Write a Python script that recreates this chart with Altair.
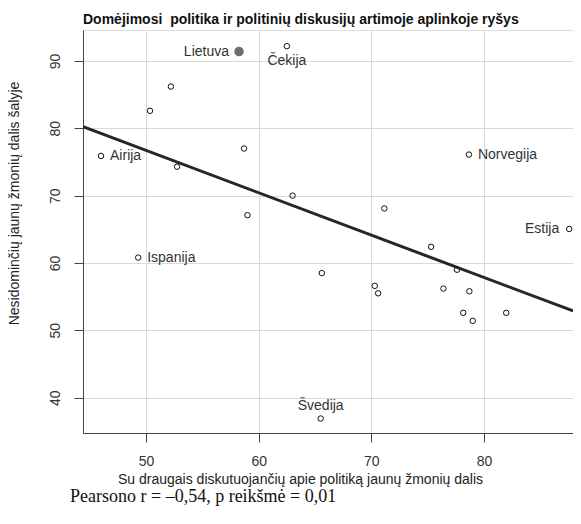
import altair as alt
import pandas as pd

# Data
countries = ["Lietuva", "Čekija", "", "", "Airija", "", "", "", "", "Ispanija",
             "", "Norvegija", "Estija", "", "", "", "", "", "", "", "", "", "", "Švedija"]
x_vals = [58.25, 62.5, 52.2, 50.35, 46.0, 52.75, 58.7, 59.0, 63.0, 49.3,
          71.15, 78.66, 87.56, 75.3, 77.6, 65.6, 70.3, 70.6, 76.4, 78.7, 78.15, 79.0, 81.97, 65.5]
y_vals = [91.4, 92.2, 86.2, 82.6, 75.9, 74.3, 77.0, 67.1, 70.0, 60.8,
          68.1, 76.1, 65.05, 62.4, 59.0, 58.5, 56.6, 55.5, 56.2, 55.8, 52.6, 51.4, 52.6, 36.9]
label_pos = ["left", "below", "", "", "right", "", "", "", "", "right",
             "", "right", "left", "", "", "", "", "", "", "", "", "", "", "above"]

x_ticks = [50, 60, 70, 80]
y_ticks = [40, 50, 60, 70, 80, 90]
x_domain = [44.4, 87.9]
y_domain = [34.75, 94.6]

title_text = "Domėjimosi\u00a0 politika ir politinių diskusijų artimoje aplinkoje ryšys"
x_title = "Su draugais diskutuojančių apie politiką jaunų žmonių dalis"
y_title = "Nesidominčių jaunų žmonių dalis šalyje"
footnote = "Pearsono r = –0,54, p reikšmė = 0,01"

df = pd.DataFrame({"country": countries, "x": x_vals, "y": y_vals, "pos": label_pos})
df["highlight"] = df["country"] == "Lietuva"

SANS = "Liberation Sans"

xscale = alt.Scale(domain=x_domain, nice=False, zero=False)
yscale = alt.Scale(domain=y_domain, nice=False, zero=False)

xaxis = alt.Axis(values=x_ticks, title=x_title, grid=True, gridColor="#d9d9d9",
                 gridWidth=1, domainColor="#444", tickColor="#444", tickSize=9,
                 labelFont=SANS, labelFontSize=14, labelColor="#333", labelPadding=12,
                 titleFont=SANS, titleFontSize=14, titleFontWeight="normal",
                 titleColor="#222", titleAlign="center", titleBaseline="middle",
                 titleX=217, titleY=46)
yaxis = alt.Axis(values=y_ticks, title=y_title, grid=True, gridColor="#d9d9d9",
                 gridWidth=1, domainColor="#444", tickColor="#444", tickSize=9,
                 labelFont=SANS, labelFontSize=14, labelColor="#333", labelAngle=-90,
                 labelAlign="center", labelBaseline="bottom", labelPadding=12,
                 titleFont=SANS, titleFontSize=14, titleFontWeight="normal",
                 titleColor="#222", titleAngle=-90, titleAlign="center",
                 titleBaseline="middle", titleX=-69, titleY=173)

base = alt.Chart(df)

grid_layer = base.mark_point(opacity=0).encode(
    x=alt.X("x:Q", scale=xscale, axis=xaxis),
    y=alt.Y("y:Q", scale=yscale, axis=yaxis),
)

reg = base.transform_regression("x", "y", extent=x_domain).mark_line(
    color="#262626", strokeWidth=3, clip=True
).encode(x=alt.X("x:Q", scale=xscale), y=alt.Y("y:Q", scale=yscale))

pts = base.transform_filter("!datum.highlight").mark_point(
    shape="circle", size=30, filled=False, color="#111", strokeWidth=1, opacity=1
).encode(x=alt.X("x:Q", scale=xscale), y=alt.Y("y:Q", scale=yscale))

lt = base.transform_filter("datum.highlight").mark_point(
    shape="circle", size=90, filled=True, color="#6e6e6e", opacity=1
).encode(x=alt.X("x:Q", scale=xscale), y=alt.Y("y:Q", scale=yscale))

def lab(pos, **kw):
    return base.transform_filter(f"datum.pos == '{pos}'").mark_text(
        font=SANS, fontSize=14, color="#333", **kw
    ).encode(x=alt.X("x:Q", scale=xscale), y=alt.Y("y:Q", scale=yscale), text="country:N")

lab_left = lab("left", align="right", baseline="middle", dx=-10)
lab_right = lab("right", align="left", baseline="middle", dx=9)
lab_below = lab("below", align="center", baseline="middle", dy=15)
lab_above = lab("above", align="center", baseline="middle", dy=-13)

foot = alt.Chart(pd.DataFrame({"t": [footnote]})).mark_text(
    font="Liberation Serif", fontSize=18, color="#111", align="left", baseline="middle"
).encode(x=alt.value(-13), y=alt.value(467), text="t:N")

chart = alt.layer(grid_layer, reg, pts, lt, lab_left, lab_right, lab_below, lab_above, foot).properties(
    width=490, height=403,
    title=alt.TitleParams(title_text, font=SANS, fontSize=14, fontWeight="bold",
                          color="#111", anchor="start", frame="group", offset=0,
                          dx=0, dy=-3),
    autosize=alt.AutoSizeParams(type="none"),
    padding={"left": 75, "top": 22, "right": 0, "bottom": 91},
).configure_view(stroke="#444", strokeWidth=1).configure(background="white")

chart.save("out.html", embed_options={"renderer": "svg", "actions": False})
